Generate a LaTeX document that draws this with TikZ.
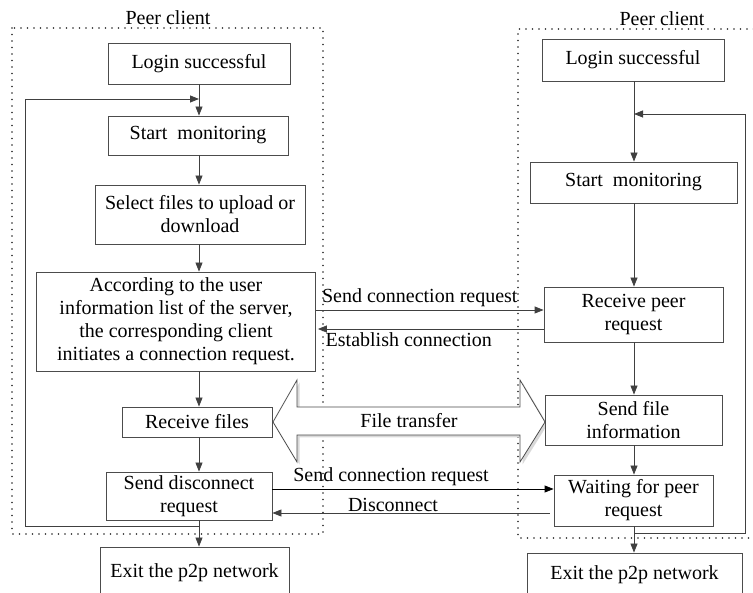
\documentclass[tikz,border=0pt]{standalone}
\usepackage{fontspec}
\setmainfont{Liberation Serif}
\usetikzlibrary{arrows.meta}

\tikzset{
  box/.style={rectangle, draw=black!70, line width=0.8pt, fill=white, align=center, inner sep=1pt},
  link/.style={draw=black!75, line width=0.8pt},
  arr/.style={link, -{Triangle[length=9pt, width=7pt]}},
  peerbox/.style={draw=black!85, line width=1.8pt, dash pattern=on 0pt off 6.5pt, line cap=round},
}

\begin{document}
\begin{tikzpicture}[x=1pt, y=-1pt, font=\fontsize{20}{23}\selectfont]
\useasboundingbox (0,0) rectangle (753,593);

% the two peer client areas
\draw [peerbox] (12,28) rectangle (323,534);
\draw (168,18) node (peerL) {Peer client};
\draw [peerbox] (760,29) -- (518,29) -- (518,538) -- (760,538);
\draw (662,19) node (peerR) {Peer client};

% file transfer (double arrow)
\begin{scope}[shift={(2.5,2.5)}]
\fill [black!15] (273,422) -- (297,380) -- (297,407) -- (520,407) -- (520,380) -- (545,422) -- (520,462) -- (520,435) -- (297,435) -- (297,462) -- cycle;
\end{scope}
\draw [draw=black!70, line width=0.8pt, fill=white] (273,422) -- (297,380) -- (297,407) -- (520,407) -- (520,380) -- (545,422) -- (520,462) -- (520,435) -- (297,435) -- (297,462) -- cycle;
\draw (409,421) node (ftrans) {File transfer};

% left client
\draw (199,63.5) node (loginL) [box, minimum width=182, minimum height=41] {Login successful};
\draw (198,135.5) node (startL) [box, minimum width=180, minimum height=39] {Start\ \ monitoring};
\draw (200,214.5) node (selectL) [box, minimum width=210, minimum height=59] {Select files to upload or\\download};
\draw (176,321.5) node (according) [box, minimum width=279, minimum height=99] {According to the user\\information list of the server,\\the corresponding client\\initiates a connection request.};
\draw (197,422) node (recvFiles) [box, minimum width=150, minimum height=30] {Receive files};
\draw (189,496) node (sendDisc) [box, minimum width=166, minimum height=48] {Send disconnect\\request};
\draw (194.5,573) node (exitL) [box, minimum width=189, minimum height=52] {Exit the p2p network};

% right client
\draw (633,60) node (loginR) [box, minimum width=182, minimum height=42] {Login successful};
\draw (633.5,182.5) node (startR) [box, minimum width=207, minimum height=41] {Start\ \ monitoring};
\draw (633.5,314.5) node (recvPeer) [box, minimum width=179, minimum height=55] {Receive peer\\request};
\draw (633.5,420) node (sendFile) [box, minimum width=177, minimum height=50] {Send file\\information};
\draw (633.5,500.5) node (waiting) [box, minimum width=159, minimum height=51] {Waiting for peer\\request};
\draw (634.5,575) node (exitR) [box, minimum width=215, minimum height=44] {Exit the p2p network};

\coordinate (colL) at (199,0);
\coordinate (colR) at (634,0);

% left flow
\draw [arr] (loginL.south -| colL) -- (startL.north -| colL);
\draw [arr] (startL.south -| colL) -- (selectL.north -| colL);
\draw [arr] (selectL.south -| colL) -- (according.north -| colL);
\draw [arr] (according.south -| colL) -- (recvFiles.north -| colL);
\draw [arr] (recvFiles.south -| colL) -- (sendDisc.north -| colL);
\draw [arr] (sendDisc.south -| colL) -- (exitL.north -| colL);

\coordinate (hloopL) at (0,526);
\coordinate (hbackL) at (0,99);
\draw [arr] (colL |- hloopL) -- ++(-174,0) |- (colL |- hbackL);

% right flow
\draw [arr] (loginR.south -| colR) -- (startR.north -| colR);
\draw [arr] (startR.south -| colR) -- (recvPeer.north -| colR);
\draw [arr] (recvPeer.south -| colR) -- (sendFile.north -| colR);
\draw [arr] (sendFile.south -| colR) -- (waiting.north -| colR);
\draw [arr] (waiting.south -| colR) -- (exitR.north -| colR);

\coordinate (hloopR) at (0,533);
\coordinate (hbackR) at (0,114);
\draw [arr] (colR |- hloopR) -- ++(111,0) |- (colR |- hbackR);

% messages between the clients
\coordinate (hsend) at (0,310);
\coordinate (hest) at (0,329);
\coordinate (hreq) at (0,489);
\coordinate (hdis) at (0,513);

\draw [arr] (according.east |- hsend) -- coordinate(a) (recvPeer.west |- hsend);
\draw (a) node [above, xshift=-10pt] {Send connection request};

\draw [arr, shorten >=2pt] (recvPeer.west |- hest) -- coordinate(a) (according.east |- hest);
\draw (a) node [below, xshift=-21pt] {Establish connection};

\draw [arr, draw=black] (sendDisc.east |- hreq) -- coordinate(a) (waiting.west |- hreq);
\draw (a) node [above, xshift=-22pt] {Send connection request};

\draw [arr, shorten <=4pt] (waiting.west |- hdis) -- coordinate(a) (sendDisc.east |- hdis);
\draw (a) node [above=-2pt, xshift=-20pt] {Disconnect};

\end{tikzpicture}
\end{document}
